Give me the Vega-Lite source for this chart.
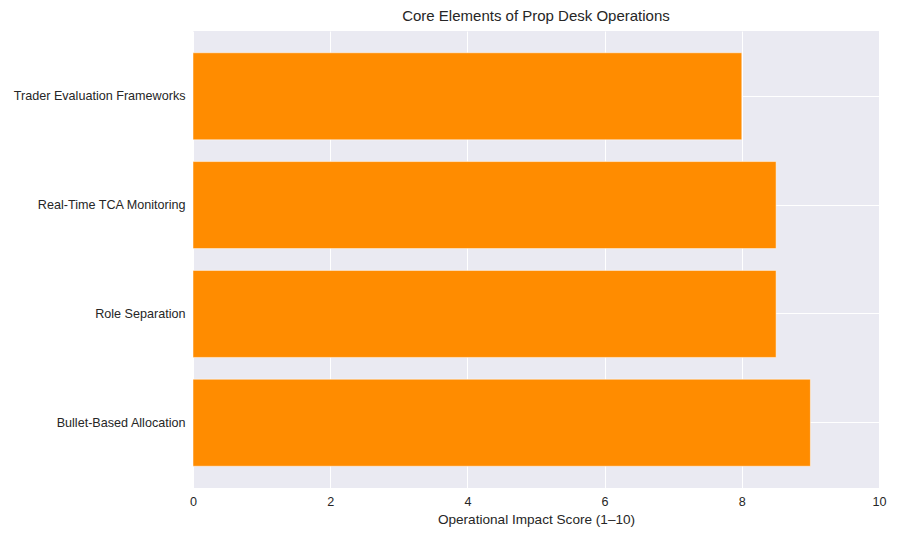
{
  "$schema": "https://vega.github.io/schema/vega-lite/v6.json",
  "width": 686,
  "height": 457,
  "autosize": {"type": "none"},
  "padding": {"left": 193, "top": 31, "right": 21, "bottom": 52},
  "background": "white",
  "title": {
    "text": "Core Elements of Prop Desk Operations",
    "font": "Liberation Sans",
    "fontSize": 15,
    "fontWeight": "normal",
    "color": "#262626",
    "anchor": "middle",
    "offset": 7
  },
  "config": {
    "view": {"fill": "#EAEAF2", "stroke": null},
    "font": "Liberation Sans"
  },
  "data": {
    "values": [
      {"element": "Trader Evaluation Frameworks", "score": 8.0},
      {"element": "Real-Time TCA Monitoring", "score": 8.5},
      {"element": "Role Separation", "score": 8.5},
      {"element": "Bullet-Based Allocation", "score": 9.0}
    ]
  },
  "mark": {"type": "bar", "color": "#FF8C00", "stroke": "white", "strokeWidth": 0.5},
  "encoding": {
    "y": {
      "field": "element",
      "type": "nominal",
      "sort": null,
      "scale": {"paddingInner": 0.2, "paddingOuter": 0.2},
      "axis": {
        "title": null,
        "domain": false,
        "ticks": false,
        "grid": true,
        "bandPosition": 0.5,
        "gridColor": "white",
        "gridWidth": 1,
        "labelFont": "Liberation Sans",
        "labelFontSize": 12.6,
        "labelColor": "#262626",
        "labelPadding": 8,
        "labelLimit": 300
      }
    },
    "x": {
      "field": "score",
      "type": "quantitative",
      "scale": {"domain": [0, 10], "nice": false},
      "axis": {
        "title": "Operational Impact Score (1–10)",
        "titleFont": "Liberation Sans",
        "titleFontSize": 13.6,
        "titleFontWeight": "normal",
        "titleColor": "#262626",
        "titlePadding": 5,
        "values": [0, 2, 4, 6, 8, 10],
        "domain": false,
        "ticks": false,
        "grid": true,
        "gridColor": "white",
        "gridWidth": 1,
        "labelFont": "Liberation Sans",
        "labelFontSize": 12.6,
        "labelColor": "#262626",
        "labelPadding": 7,
        "labelFlush": false
      }
    }
  }
}
